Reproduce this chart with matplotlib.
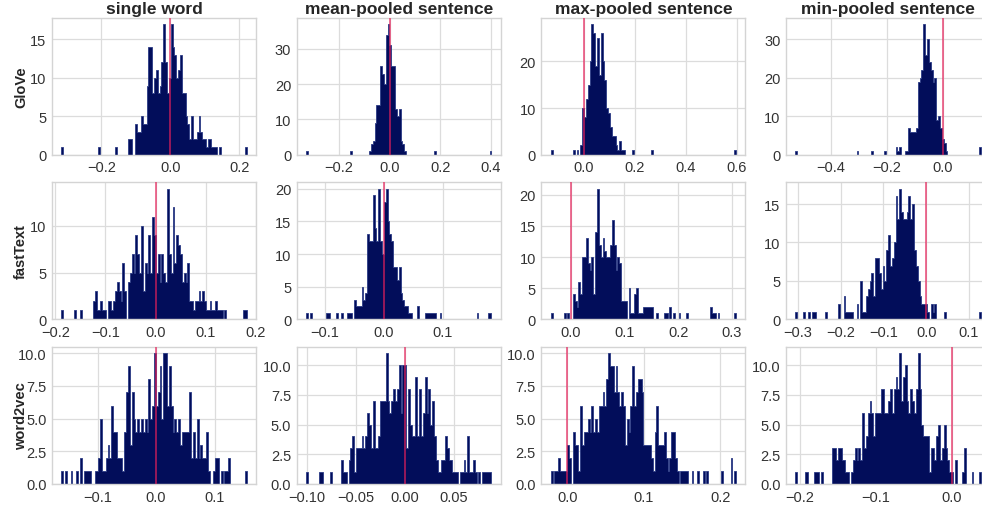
import numpy as np
import matplotlib
matplotlib.use("Agg")
import matplotlib.pyplot as plt
from matplotlib.ticker import MultipleLocator

plt.rcParams['font.family'] = ['Liberation Sans', 'DejaVu Sans']

# column titles and row labels
col_titles = ["single word", "mean-pooled sentence", "max-pooled sentence", "min-pooled sentence"]
row_labels = ["GloVe", "fastText", "word2vec"]

# histogram bin counts (100 bins per panel)
glove_word = [1,0,0,0,0,0,0,0,0,0, 0,0,0,0,0,0,0,0,0,0, 1,0,0,0,0,0,0,0,0,1,
              0,0,0,0,0,0,2,2,0,0, 4,3,3,5,4,4,9,14,14,8, 10,11,8,9,12,17,12,8,10,17,
              14,13,10,11,13,8,8,5,4,2, 5,2,2,3,5,3,2,2,1,2, 2,1,1,1,0,1,0,0,0,0,
              0,0,0,0,0,0,0,0,0,1]
glove_mean = [1,0,0,0,0,0,0,0,0,0, 0,0,0,0,0,0,0,0,0,0, 0,0,0,0,1,0,0,0,0,0,
              0,0,0,0,1,3,4,9,14,14, 25,23,20,34,37,31,25,25,13,11, 13,4,3,1,0,0,0,0,0,0,
              0,0,0,0,0,0,0,0,0,1, 0,0,0,0,0,0,0,0,0,0, 0,0,0,0,0,0,0,0,0,0,
              0,0,0,0,0,0,0,0,0,1]
glove_max = [1,0,0,0,0,0,0,0,0,0, 0,0,1,0,1,0,2,10,8,12, 15,20,28,26,19,25,17,26,20,16,
             10,9,6,4,4,2,1,3,1,1, 0,0,0,0,1,0,0,0,0,0, 0,0,0,0,1,0,0,0,0,0,
             0,0,0,0,0,0,0,0,0,0, 0,0,0,0,0,0,0,0,0,0, 0,0,0,0,0,0,0,0,0,0,
             0,0,0,0,0,0,0,0,0,1]
glove_min = [1,0,0,0,0,0,0,0,0,0, 0,0,0,0,0,0,0,0,0,0, 0,0,0,0,0,0,0,0,0,0,
             0,0,0,1,0,0,0,0,0,0, 0,1,0,0,0,0,0,0,1,0, 0,0,0,0,2,1,2,0,0,1,
             1,7,6,6,6,7,19,20,22,34, 26,30,24,22,19,20,9,10,7,4, 3,1,0,0,0,0,0,0,0,0,
             0,0,0,0,0,0,0,0,0,2]

fasttext_word = [1,0,0,0,0,0,0,1,0,0, 1,0,0,0,0,0,0,2,3,1, 1,2,1,1,0,2,2,1,2,3,
                 4,3,2,6,3,0,4,5,7,5, 9,7,5,10,3,6,5,9,5,11, 9,5,7,4,7,5,4,14,7,5,
                 12,6,9,8,7,4,5,4,6,2, 2,1,2,2,3,2,3,2,1,1, 2,1,1,2,1,1,1,0,1,0,
                 0,0,0,0,0,0,0,0,1,1]
fasttext_mean = [1,0,1,0,0,0,0,0,0,0, 0,1,1,0,0,0,1,0,0,1, 0,0,1,1,1,0,3,2,2,2,
                 5,3,4,13,12,12,19,14,12,20, 12,10,18,20,15,13,12,8,8,6, 8,4,3,2,2,1,1,0,0,0,
                 2,0,0,0,1,1,1,1,1,1, 0,0,1,0,0,0,0,0,0,0, 0,0,0,0,0,0,0,0,0,0,
                 0,0,1,0,0,0,0,0,1,1]
fasttext_max = [1,0,0,0,0,0,0,1,0,1, 0,0,4,3,2,6,4,10,10,13, 9,8,10,4,14,21,12,10,13,11,
                10,10,12,16,12,8,10,9,3,3, 3,0,5,1,1,4,5,1,1,1, 2,2,2,2,2,0,0,1,0,0,
                0,1,1,0,2,0,1,0,0,1, 0,0,0,1,0,0,0,0,0,0, 0,0,0,0,0,0,2,1,1,0,
                1,0,0,0,0,0,0,0,0,1]
fasttext_min = [1,0,0,0,1,0,0,1,0,1, 1,0,0,0,0,0,1,0,0,0, 0,0,0,2,0,0,3,1,1,1,
                1,0,0,2,0,5,1,1,3,4, 5,6,3,8,8,6,4,7,5,9, 11,7,8,10,16,13,17,14,13,13,
                14,16,13,15,9,7,5,3,2,2, 2,1,0,2,1,2,0,0,0,0, 1,0,0,0,0,0,0,0,0,0,
                0,0,0,0,0,0,0,0,0,1]

w2v_word = [1,0,1,0,0,1,0,0,1,0, 2,0,1,1,1,1,0,0,1,1, 2,5,1,1,2,3,2,6,4,4,
            2,2,2,1,4,7,9,3,7,5, 4,5,4,5,4,5,4,8,5,6, 10,6,7,9,5,10,10,6,9,6,
            4,5,4,5,3,4,4,4,4,7, 2,4,2,5,2,3,2,2,4,1, 0,0,1,2,2,0,1,0,1,1,
            2,0,0,0,0,0,0,0,0,1]
w2v_mean = [1,0,0,0,0,0,0,1,1,0, 0,0,0,1,0,0,0,0,0,2, 1,1,0,2,3,4,1,3,3,3,
            4,3,4,6,5,3,7,3,3,4, 7,7,7,11,7,6,7,8,7,8, 10,6,10,10,3,8,5,4,4,9,
            4,8,4,6,9,6,8,5,7,4, 2,1,1,2,2,4,3,2,2,1, 1,1,0,1,1,2,1,4,1,1,
            2,1,0,1,0,1,1,1,1,1]
w2v_max = [1,0,1,1,2,1,1,1,1,3, 2,0,4,3,3,1,6,3,4,4, 5,4,6,4,5,4,6,6,7,6,
           8,10,9,9,7,9,7,6,7,6, 3,5,4,6,9,6,7,8,8,7, 3,3,3,3,2,1,4,6,3,3,
           3,4,2,1,2,4,4,2,1,0, 1,1,1,1,0,0,1,0,0,1, 0,0,1,0,1,0,0,0,0,0,
           0,0,1,0,0,0,0,2,0,1]
w2v_min = [1,0,0,0,0,1,1,0,0,0, 1,1,1,0,1,0,0,0,0,0, 3,3,2,3,3,2,2,1,1,0,
           1,2,3,2,3,2,6,3,4,6, 7,6,4,6,6,6,8,8,6,6, 7,8,6,8,9,8,11,7,9,10,
           7,6,8,7,6,8,11,8,5,4, 4,4,1,3,3,2,4,5,2,3, 5,3,2,1,1,0,2,0,0,0,
           1,3,0,0,0,1,0,0,0,1]

counts = [[glove_word, glove_mean, glove_max, glove_min],
          [fasttext_word, fasttext_mean, fasttext_max, fasttext_min],
          [w2v_word, w2v_mean, w2v_max, w2v_min]]

# data range (min, max) of each panel
ranges = [[(-0.316, 0.222), (-0.331, 0.403), (-0.129, 0.597), (-0.526, 0.135)],
          [(-0.188, 0.182), (-0.132, 0.182), (-0.037, 0.308), (-0.306, 0.128)],
          [(-0.162, 0.155), (-0.101, 0.088), (-0.0216, 0.2205), (-0.2055, 0.0385)]]

xsteps = [[0.2, 0.2, 0.2, 0.2], [0.1, 0.1, 0.1, 0.1], [0.1, 0.05, 0.1, 0.1]]
ysteps = [[5, 10, 10, 10], [5, 5, 5, 5], [2.5, 2.5, 2.5, 2.5]]

W, H = 982, 506
fig = plt.figure(figsize=(W / 100, H / 100), dpi=100)

bar_color = "#020d5a"
edge_color = "#2a3a85"
line_color = "#e8205a"

for r in range(3):
    for c in range(4):
        left = 52 + 244.7 * c
        top = 18.5 + 164.6 * r
        ax = fig.add_axes([left / W, 1 - (top + 137.3) / H, 204 / W, 137.3 / H])
        lo, hi = ranges[r][c]
        edges = np.linspace(lo, hi, len(counts[r][c]) + 1)
        centers = (edges[:-1] + edges[1:]) / 2
        ax.hist(centers, bins=edges, weights=counts[r][c], histtype="stepfilled",
                facecolor=bar_color, edgecolor=edge_color, linewidth=0.6, zorder=2)
        ax.axvline(0, color=line_color, alpha=0.75, lw=1.2, zorder=3)

        ax.xaxis.set_major_locator(MultipleLocator(xsteps[r][c]))
        ax.yaxis.set_major_locator(MultipleLocator(ysteps[r][c]))
        ax.grid(True, color="#dcdcdc", lw=0.9, zorder=0)
        ax.set_axisbelow(True)
        for s in ax.spines.values():
            s.set_color("#d4d4d4")
            s.set_linewidth(1.0)
        ax.tick_params(length=0, labelsize=10.5, labelcolor="#333333", pad=4)

        if r == 0:
            ax.set_title(col_titles[c], fontsize=12.5, fontweight="bold",
                         color="#262626", pad=3)
        if c == 0:
            ax.set_ylabel(row_labels[r], fontsize=10.5, fontweight="bold",
                          color="#262626")
            ax.yaxis.set_label_coords(-0.118, 0.5)

fig.savefig("out.png", dpi=100)
